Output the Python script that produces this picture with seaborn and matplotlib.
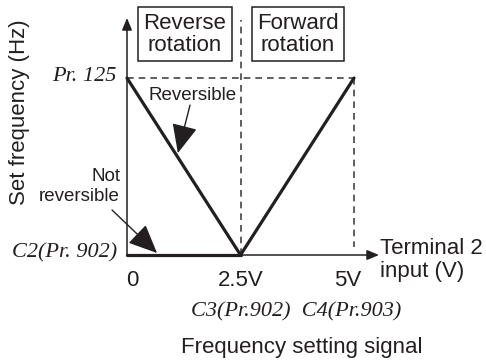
import matplotlib
matplotlib.use("Agg")
import matplotlib.pyplot as plt
import seaborn as sns

# ------------------------------------------------------------
# Data
# ------------------------------------------------------------
volts_reversible = [0.0, 2.5, 5.0]
freq_reversible = [125.0, 0.0, 125.0]
volts_not_reversible = [0.0, 2.5]
freq_not_reversible = [0.0, 0.0]

x_ticks = [0.0, 2.5, 5.0]
x_tick_labels = ["0", "2.5V", "5V"]
x_tick_shift = [5, 0, -6]          # pixels, tweak label placement
y_ticks = [125.0, 0.0]
y_tick_labels = ["Pr. 125", "C2(Pr. 902)"]

X_MAX = 5.55
Y_MAX = 167.4

INK = "#231f20"
DASH = "#444444"
SANS = "Liberation Sans"
SERIF = "Liberation Serif"
FS = 16

# ------------------------------------------------------------
# Figure
# ------------------------------------------------------------
sns.set_style("white")
plt.rcParams["font.family"] = [SANS, "DejaVu Sans"]

fig = plt.figure(figsize=(4.86, 3.61), dpi=100)
ax = fig.add_axes([127 / 486, 106 / 361, 252 / 486, 237 / 361])
ax.set_xlim(0, X_MAX)
ax.set_ylim(0, Y_MAX)
ax.axis("off")

# dashed guides
dash_kw = dict(color=DASH, lw=1.2, linestyle=(0, (4, 3)), clip_on=False, zorder=1)
ax.plot([x_ticks[1], x_ticks[1]], [0, Y_MAX * 0.99], **dash_kw)
ax.plot([0, x_ticks[2]], [y_ticks[0], y_ticks[0]], **dash_kw)
ax.plot([x_ticks[2], x_ticks[2]], [y_ticks[0], 6], **dash_kw)

# characteristic lines
sns.lineplot(x=volts_reversible, y=freq_reversible, color=INK, lw=2.3,
             ax=ax, zorder=3, clip_on=False)
sns.lineplot(x=volts_not_reversible, y=freq_not_reversible, color=INK, lw=2.3,
             ax=ax, zorder=3, clip_on=False)

# axes arrows
axis_arrow = dict(arrowstyle="-|>,head_length=0.6,head_width=0.25",
                  mutation_scale=12, lw=1.1, color=INK, shrinkA=0, shrinkB=0)
ax.annotate("", xy=(0, Y_MAX), xytext=(0, 0), arrowprops=axis_arrow,
            annotation_clip=False)
ax.annotate("", xy=(X_MAX, 0), xytext=(0, 0), arrowprops=axis_arrow,
            annotation_clip=False)

# tick labels
for xv, lab, dx in zip(x_ticks, x_tick_labels, x_tick_shift):
    ax.annotate(lab, xy=(xv, 0), xytext=(dx, -25), textcoords="offset pixels",
                ha="center", va="center", fontsize=FS, color=INK,
                annotation_clip=False)

for yv, lab in zip(y_ticks, y_tick_labels):
    ax.annotate(lab, xy=(0, yv), xytext=(-10, 2), textcoords="offset pixels",
                ha="right", va="center", fontsize=FS, color=INK,
                family=SERIF, style="italic", annotation_clip=False)

# axis titles
ax.text(-2.357, 101, "Set frequency (Hz)", rotation=90, ha="center",
        va="center", fontsize=FS, color=INK)
ax.text(5.57, -3.5, "Terminal 2\ninput (V)", ha="left", va="center",
        fontsize=FS, color=INK, linespacing=1.1, clip_on=False)
ax.text(3.72, -40.3, "C3(Pr.902)  C4(Pr.903)", ha="center", va="center",
        fontsize=FS, color=INK, family=SERIF, style="italic")
ax.text(3.85, -65, "Frequency setting signal", ha="center", va="center",
        fontsize=FS, color=INK)

# rotation boxes
box = dict(boxstyle="square,pad=0.25", fc="white", ec=INK, lw=1.1)
ax.text(1.278, 156, "Reverse\nrotation", ha="center", va="center",
        fontsize=FS, color=INK, bbox=box, linespacing=1.05, clip_on=False)
ax.text(3.767, 156, "Forward\nrotation", ha="center", va="center",
        fontsize=FS, color=INK, bbox=box, linespacing=1.05, clip_on=False)

# annotations
big_arrow = dict(arrowstyle="-|>,head_length=0.9,head_width=0.4",
                 mutation_scale=20, lw=1.0, color=INK, shrinkA=0, shrinkB=0)
ax.text(1.454, 113, "Reversible", ha="center", va="center",
        fontsize=13.5, color=INK)
ax.annotate("", xy=(1.12, 72), xytext=(1.388, 105.9), arrowprops=big_arrow,
            annotation_clip=False)

ax.text(-0.154, 48.4, "Not\nreversible", ha="right", va="center",
        multialignment="right", fontsize=13.5, color=INK, linespacing=1.2,
        clip_on=False)
ax.annotate("", xy=(0.661, 1.4), xytext=(-0.33, 31.8), arrowprops=big_arrow,
            annotation_clip=False)

fig.savefig("out.png", dpi=100, facecolor="white")
